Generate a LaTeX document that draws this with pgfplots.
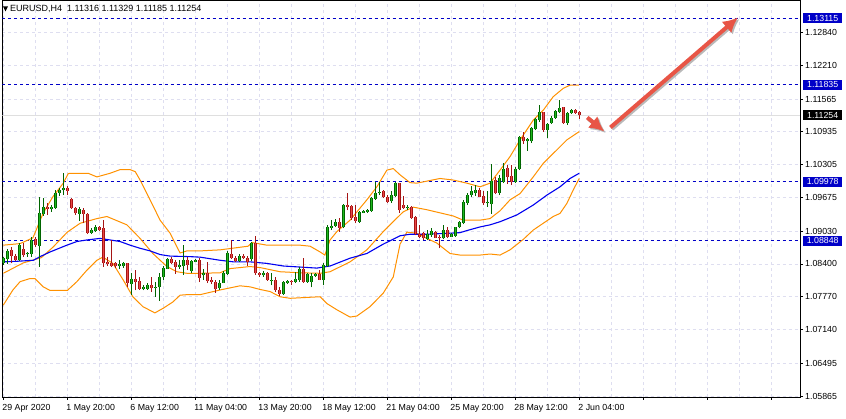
\documentclass[border=0pt]{standalone}
\usepackage{pgfplots}
\pgfplotsset{compat=1.18}
\usepackage{pgfplotstable}
\usepackage{fontspec}
\setmainfont{Liberation Sans}
\usetikzlibrary{arrows.meta}
\definecolor{bullfill}{RGB}{30,185,30}
\definecolor{bullline}{RGB}{0,100,0}
\definecolor{bearfill}{RGB}{232,70,70}
\definecolor{bearline}{RGB}{165,20,20}
\definecolor{bandorange}{RGB}{255,145,0}
\definecolor{mablue}{RGB}{0,0,240}
\definecolor{levelblue}{RGB}{0,0,200}
\definecolor{gridcol}{RGB}{222,222,240}
\definecolor{arrowred}{RGB}{232,85,70}
\definecolor{shadowgray}{RGB}{185,185,185}

\pgfplotstableread{
i o h l c
0 1.0841 1.0854 1.0838 1.0851
1 1.0849 1.0868 1.0840 1.0865
2 1.0867 1.0872 1.0841 1.0855
3 1.0856 1.0860 1.0846 1.0847
4 1.0847 1.0881 1.0846 1.0876
5 1.0868 1.0880 1.0853 1.0857
6 1.0859 1.0863 1.0854 1.0861
7 1.0859 1.0891 1.0854 1.0886
8 1.0887 1.0891 1.0872 1.0876
9 1.0874 1.0969 1.0835 1.0937
10 1.0936 1.0966 1.0932 1.0950
11 1.0950 1.0956 1.0934 1.0945
12 1.0946 1.0953 1.0940 1.0949
13 1.0947 1.0981 1.0945 1.0977
14 1.0976 1.0985 1.0970 1.0981
15 1.0981 1.1015 1.0972 1.0986
16 1.0986 1.0990 1.0972 1.0980
17 1.0964 1.0966 1.0945 1.0947
18 1.0947 1.0950 1.0934 1.0937
19 1.0936 1.0950 1.0923 1.0945
20 1.0943 1.0947 1.0918 1.0936
21 1.0936 1.0937 1.0897 1.0900
22 1.0900 1.0908 1.0897 1.0906
23 1.0904 1.0915 1.0901 1.0910
24 1.0910 1.0913 1.0904 1.0905
25 1.0908 1.0924 1.0835 1.0841
26 1.0844 1.0854 1.0836 1.0840
27 1.0841 1.0886 1.0835 1.0836
28 1.0841 1.0844 1.0833 1.0836
29 1.0836 1.0847 1.0830 1.0840
30 1.0836 1.0844 1.0833 1.0842
31 1.0841 1.0842 1.0796 1.0803
32 1.0801 1.0822 1.0780 1.0812
33 1.0812 1.0828 1.0789 1.0806
34 1.0807 1.0815 1.0790 1.0792
35 1.0791 1.0799 1.0789 1.0796
36 1.0792 1.0804 1.0790 1.0799
37 1.0799 1.0815 1.0787 1.0793
38 1.0794 1.0806 1.0777 1.0796
39 1.0795 1.0822 1.0769 1.0814
40 1.0814 1.0836 1.0810 1.0833
41 1.0831 1.0851 1.0830 1.0849
42 1.0849 1.0853 1.0840 1.0842
43 1.0844 1.0847 1.0821 1.0835
44 1.0835 1.0847 1.0831 1.0838
45 1.0836 1.0876 1.0819 1.0847
46 1.0847 1.0853 1.0828 1.0838
47 1.0826 1.0847 1.0822 1.0845
48 1.0844 1.0850 1.0843 1.0847
49 1.0847 1.0851 1.0805 1.0813
50 1.0818 1.0830 1.0810 1.0822
51 1.0822 1.0844 1.0803 1.0808
52 1.0809 1.0815 1.0801 1.0806
53 1.0806 1.0810 1.0785 1.0791
54 1.0793 1.0809 1.0790 1.0804
55 1.0804 1.0827 1.0803 1.0822
56 1.0821 1.0865 1.0819 1.0861
57 1.0860 1.0886 1.0849 1.0851
58 1.0851 1.0855 1.0844 1.0846
59 1.0846 1.0859 1.0843 1.0855
60 1.0855 1.0859 1.0849 1.0851
61 1.0851 1.0855 1.0836 1.0843
62 1.0849 1.0883 1.0846 1.0880
63 1.0880 1.0894 1.0819 1.0822
64 1.0823 1.0825 1.0815 1.0819
65 1.0818 1.0826 1.0815 1.0823
66 1.0822 1.0824 1.0808 1.0809
67 1.0809 1.0822 1.0799 1.0810
68 1.0810 1.0815 1.0787 1.0789
69 1.0790 1.0795 1.0778 1.0782
70 1.0782 1.0808 1.0780 1.0806
71 1.0803 1.0809 1.0801 1.0808
72 1.0808 1.0809 1.0799 1.0806
73 1.0806 1.0825 1.0803 1.0812
74 1.0810 1.0835 1.0806 1.0830
75 1.0831 1.0851 1.0804 1.0806
76 1.0806 1.0823 1.0804 1.0821
77 1.0806 1.0822 1.0795 1.0817
78 1.0817 1.0823 1.0815 1.0821
79 1.0821 1.0828 1.0809 1.0810
80 1.0810 1.0841 1.0799 1.0838
81 1.0836 1.0915 1.0835 1.0911
82 1.0909 1.0924 1.0905 1.0913
83 1.0913 1.0926 1.0911 1.0921
84 1.0921 1.0928 1.0902 1.0909
85 1.0910 1.0955 1.0908 1.0953
86 1.0953 1.0976 1.0943 1.0950
87 1.0951 1.0953 1.0924 1.0929
88 1.0931 1.0953 1.0918 1.0923
89 1.0921 1.0942 1.0919 1.0940
90 1.0938 1.0943 1.0937 1.0942
91 1.0940 1.0945 1.0938 1.0943
92 1.0942 1.0969 1.0940 1.0967
93 1.0965 1.0998 1.0963 1.0976
94 1.0976 1.0998 1.0972 1.0978
95 1.0979 1.0981 1.0966 1.0968
96 1.0969 1.0972 1.0957 1.0959
97 1.0960 1.0979 1.0957 1.0972
98 1.0971 1.0998 1.0969 1.0995
99 1.0995 1.0996 1.0938 1.0943
100 1.0954 1.0970 1.0945 1.0948
101 1.0947 1.0953 1.0943 1.0950
102 1.0950 1.0952 1.0926 1.0929
103 1.0931 1.0932 1.0895 1.0897
104 1.0897 1.0915 1.0889 1.0892
105 1.0899 1.0902 1.0886 1.0889
106 1.0887 1.0905 1.0885 1.0897
107 1.0895 1.0908 1.0892 1.0904
108 1.0902 1.0904 1.0889 1.0890
109 1.0892 1.0895 1.0870 1.0889
110 1.0889 1.0915 1.0887 1.0905
111 1.0905 1.0910 1.0889 1.0892
112 1.0892 1.0900 1.0891 1.0897
113 1.0893 1.0911 1.0892 1.0910
114 1.0910 1.0923 1.0908 1.0921
115 1.0919 1.0963 1.0916 1.0959
116 1.0957 1.0976 1.0953 1.0972
117 1.0972 1.0990 1.0968 1.0979
118 1.0977 1.0991 1.0970 1.0982
119 1.0982 1.0985 1.0968 1.0969
120 1.0970 1.0979 1.0953 1.0956
121 1.0956 1.0979 1.0950 1.0959
122 1.0955 1.1032 1.0936 1.1000
123 1.1001 1.1007 1.0974 1.0976
124 1.0976 1.1011 1.0972 1.1004
125 1.0998 1.1033 1.0995 1.1023
126 1.1025 1.1030 1.0993 1.1007
127 1.1009 1.1030 1.0991 1.0998
128 1.0998 1.1026 1.0995 1.1023
129 1.1022 1.1086 1.1020 1.1083
130 1.1083 1.1094 1.1070 1.1075
131 1.1075 1.1081 1.1057 1.1079
132 1.1075 1.1103 1.1072 1.1100
133 1.1098 1.1120 1.1097 1.1118
134 1.1116 1.1145 1.1113 1.1131
135 1.1131 1.1132 1.1094 1.1097
136 1.1097 1.1110 1.1081 1.1109
137 1.1110 1.1124 1.1109 1.1121
138 1.1120 1.1135 1.1118 1.1133
139 1.1131 1.1155 1.1129 1.1139
140 1.1141 1.1142 1.1109 1.1110
141 1.1110 1.1132 1.1107 1.1130
142 1.1129 1.1137 1.1128 1.1135
143 1.1135 1.1138 1.1128 1.1130
144 1.11316 1.11329 1.11185 1.11254
}\candles

\newcommand{\lblfont}{\fontsize{8.8}{10}\selectfont}

\begin{document}
\begin{tikzpicture}
\begin{axis}[
  at={(2.5pt,22pt)}, anchor=south west, scale only axis,
  width=797.5pt, height=396.5pt,
  xmin=-0.2, xmax=199.2, ymin=1.05846, ymax=1.13456,
  clip mode=individual,
  axis line style={black, line width=0.8pt},
  xtick={0,16,...,192},
  xticklabels={29 Apr 2020, 1 May 20:00, 6 May 12:00, 11 May 04:00, 13 May 20:00, 18 May 12:00, 21 May 04:00, 25 May 20:00, 28 May 12:00, 2 Jun 04:00,{},{},{}},
  minor xtick={8,24,...,200},
  ytick={1.05865,1.06495,1.07140,1.07770,1.08400,1.09030,1.09675,1.10305,1.10935,1.11565,1.12210,1.12840},
  yticklabels={1.05865,1.06495,1.07140,1.07770,1.08400,1.09030,1.09675,1.10305,1.10935,1.11565,1.12210,1.12840},
  xmajorgrids, xminorgrids, ymajorgrids,
  major grid style={gridcol, dash pattern=on 3pt off 3pt, line width=0.8pt},
  minor grid style={gridcol, dash pattern=on 3pt off 3pt, line width=0.8pt},
  tick align=outside, xtick pos=bottom, ytick pos=right, yticklabel pos=right,
  major tick length=3pt, minor tick length=0pt,
  tick style={black, line width=0.8pt},
  yticklabel style={font=\lblfont, anchor=west, inner sep=0pt, xshift=2pt},
  xticklabel style={font=\lblfont, anchor=north west, inner sep=0pt, xshift=-1pt, yshift=-4.5pt},
]
% level lines
\addplot[forget plot, levelblue, dash pattern=on 3pt off 3pt, line width=1pt] coordinates {(-0.2,1.13115) (199.2,1.13115)};
\addplot[forget plot, levelblue, dash pattern=on 3pt off 3pt, line width=1pt] coordinates {(-0.2,1.11835) (199.2,1.11835)};
\addplot[forget plot, levelblue, dash pattern=on 3pt off 3pt, line width=1pt] coordinates {(-0.2,1.09978) (199.2,1.09978)};
\addplot[forget plot, levelblue, dash pattern=on 3pt off 3pt, line width=1pt] coordinates {(-0.2,1.08848) (199.2,1.08848)};
\addplot[forget plot, gray!25, line width=0.8pt] coordinates {(-0.2,1.11254) (199.2,1.11254)};

% Bollinger bands
\addplot[forget plot, bandorange, line width=1pt] coordinates {
(0,1.0876) (4.2,1.0879) (7.4,1.0890) (10,1.0938) (12.4,1.0969) (15,1.0995) (16.2,1.1013) (16.7,1.1014) (21.2,1.1014) (23.4,1.1007) (26.7,1.1014) (29.2,1.1021) (31.7,1.1021) (33,1.1017) (34.2,1.1001) (36.7,1.0963) (39.2,1.0924) (41.7,1.0899) (43.4,1.0873) (44.2,1.0861) (45.9,1.0865) (49.2,1.0865) (54.2,1.0867) (59.2,1.0872) (61.2,1.0874) (62.2,1.0881) (65.9,1.0876) (74.2,1.0876) (76.7,1.0874) (79.2,1.0863) (80.4,1.0857) (81.7,1.0886) (83.4,1.0902) (86.7,1.0924) (90.9,1.0963) (93.4,1.0988) (95.9,1.1020) (97.5,1.1023) (99.2,1.1011) (101.7,1.0996) (103.4,1.0995) (109.2,1.1004) (112.5,1.1001) (115.9,1.0995) (119.2,1.0988) (121.7,1.0995) (124.2,1.1020) (126.7,1.1046) (129.2,1.1078) (132.5,1.1116) (135,1.1135) (137.5,1.1161) (140,1.1177) (141.7,1.1183) (144,1.1183)};
\addplot[forget plot, bandorange, line width=1pt] coordinates {
(0,1.0822) (5,1.0842) (9.5,1.0852) (12.4,1.0872) (16,1.0901) (19.2,1.0918) (23.4,1.0927) (25.9,1.0931) (28.4,1.0923) (30.9,1.0915) (34.2,1.0889) (37.4,1.0860) (40.9,1.0835) (43.4,1.0825) (45.9,1.0822) (49.2,1.0822) (54.2,1.0823) (56.7,1.0831) (61.7,1.0835) (64.2,1.0833) (69.2,1.0825) (74.2,1.0823) (79.2,1.0822) (81.7,1.0825) (86.7,1.0844) (90.9,1.0867) (95,1.0902) (98.4,1.0928) (100,1.0940) (102.5,1.0949) (105.9,1.0944) (109.2,1.0938) (112.5,1.0932) (115,1.0924) (119.2,1.0924) (121.7,1.0927) (124.2,1.0942) (126.7,1.0963) (129.2,1.0975) (132.5,1.1007) (135,1.1033) (137.5,1.1052) (140.9,1.1078) (144,1.1094)};
\addplot[forget plot, bandorange, line width=1pt] coordinates {
(0,1.0761) (2.4,1.0790) (4.2,1.0806) (6.7,1.0812) (7.9,1.0812) (10,1.0796) (11.7,1.0789) (16,1.0789) (18.4,1.0806) (20.9,1.0828) (23.4,1.0847) (24.9,1.0853) (27.4,1.0841) (30,1.0809) (32.4,1.0777) (34.9,1.0758) (37.9,1.0746) (40,1.0755) (42.4,1.0767) (44.2,1.0780) (45.9,1.0781) (49.2,1.0781) (54.2,1.0790) (59.2,1.0798) (61.7,1.0796) (64.2,1.0791) (66.7,1.0787) (69.2,1.0777) (71.7,1.0774) (74.2,1.0775) (79.2,1.0777) (80.9,1.0764) (83.4,1.0752) (86.7,1.0738) (88.4,1.0740) (91.7,1.0758) (95,1.0784) (97.5,1.0815) (99.2,1.0878) (100.9,1.0901) (103.4,1.0899) (105.9,1.0889) (108.4,1.0880) (111.7,1.0860) (114.2,1.0857) (119.2,1.0857) (121.7,1.0859) (124.2,1.0857) (126.7,1.0867) (130,1.0887) (132.5,1.0905) (135,1.0918) (137.5,1.0931) (139.2,1.0937) (140.9,1.0956) (142.5,1.0982) (144,1.1004)};
% moving average
\addplot[forget plot, mablue, line width=1.1pt] coordinates {
(0,1.0844) (3.3,1.0845) (7.5,1.0847) (9.2,1.0854) (11.7,1.0863) (15.9,1.0876) (18.4,1.0883) (20.9,1.0886) (24.2,1.0889) (26.7,1.0886) (29.2,1.0883) (31.7,1.0876) (34.2,1.0870) (36.7,1.0865) (39.2,1.0858) (41.7,1.0855) (46.7,1.0854) (49.2,1.0853) (54.2,1.0847) (57.5,1.0844) (61.7,1.0844) (65.9,1.0841) (70,1.0836) (74.2,1.0834) (78.4,1.0832) (81.7,1.0836) (86.7,1.0851) (90.9,1.0860) (95,1.0878) (99.2,1.0894) (101.7,1.0897) (105.9,1.0897) (111.7,1.0899) (114.2,1.0900) (115.9,1.0904) (119.2,1.0911) (121.7,1.0915) (124.2,1.0921) (128.4,1.0934) (132.5,1.0953) (135.9,1.0972) (139.2,1.0988) (141.7,1.1004) (144,1.1014)};

% wicks
\addplot[forget plot, mark=none, draw=none, x filter/.expression={\thisrow{c}>=\thisrow{o} ? x : nan},
  error bars/.cd, y dir=plus, y explicit, error mark=none,
  error bar style={draw=bullline, line width=1pt, solid}]
  table[x=i, y=l, y error plus expr={\thisrow{h}-\thisrow{l}}] {\candles};
\addplot[forget plot, mark=none, draw=none, x filter/.expression={\thisrow{c}<\thisrow{o} ? x : nan},
  error bars/.cd, y dir=plus, y explicit, error mark=none,
  error bar style={draw=bearline, line width=1pt, solid}]
  table[x=i, y=l, y error plus expr={\thisrow{h}-\thisrow{l}}] {\candles};
% bodies
\addplot[forget plot, mark=none, draw=none, x filter/.expression={\thisrow{c}>=\thisrow{o} ? x : nan},
  error bars/.cd, y dir=plus, y explicit, error mark=none,
  error bar style={draw=bullline, line width=3.2pt, solid}]
  table[x=i, y=o, y error plus expr={\thisrow{c}-\thisrow{o}}] {\candles};
\addplot[forget plot, mark=none, draw=none, x filter/.expression={\thisrow{c}>=\thisrow{o} ? x : nan},
  error bars/.cd, y dir=plus, y explicit, error mark=none,
  error bar style={draw=bullfill, line width=1.4pt, solid}]
  table[x=i, y=o, y error plus expr={\thisrow{c}-\thisrow{o}}] {\candles};
\addplot[forget plot, mark=none, draw=none, x filter/.expression={\thisrow{c}<\thisrow{o} ? x : nan},
  error bars/.cd, y dir=plus, y explicit, error mark=none,
  error bar style={draw=bearline, line width=3.2pt, solid}]
  table[x=i, y=c, y error plus expr={\thisrow{o}-\thisrow{c}}] {\candles};
\addplot[forget plot, mark=none, draw=none, x filter/.expression={\thisrow{c}<\thisrow{o} ? x : nan},
  error bars/.cd, y dir=plus, y explicit, error mark=none,
  error bar style={draw=bearfill, line width=1.4pt, solid}]
  table[x=i, y=c, y error plus expr={\thisrow{o}-\thisrow{c}}] {\candles};

% arrows (drawing objects)
\draw[shadowgray, line width=4pt, -{Latex[length=15pt,width=15pt]}, xshift=1.5pt, yshift=-1.5pt] (axis cs:146.0,1.1121) -- (axis cs:150.3,1.1094);
\draw[shadowgray, line width=4pt, -{Latex[length=15pt,width=15pt]}, xshift=1.5pt, yshift=-1.5pt] (axis cs:151.8,1.1102) -- (axis cs:183.7,1.1313);
\draw[arrowred, line width=4pt, -{Latex[length=15pt,width=15pt]}] (axis cs:146.0,1.1121) -- (axis cs:150.3,1.1094);
\draw[arrowred, line width=4pt, -{Latex[length=15pt,width=15pt]}] (axis cs:151.8,1.1102) -- (axis cs:183.7,1.1313);

% price labels on the right
\node[fill=levelblue, text=white, font=\lblfont, anchor=west, inner sep=0pt, minimum width=39pt, minimum height=10pt, xshift=3pt] at (axis cs:199.2,1.13115) {1.13115};
\node[fill=levelblue, text=white, font=\lblfont, anchor=west, inner sep=0pt, minimum width=39pt, minimum height=10pt, xshift=3pt] at (axis cs:199.2,1.11835) {1.11835};
\node[fill=levelblue, text=white, font=\lblfont, anchor=west, inner sep=0pt, minimum width=39pt, minimum height=10pt, xshift=3pt] at (axis cs:199.2,1.09978) {1.09978};
\node[fill=levelblue, text=white, font=\lblfont, anchor=west, inner sep=0pt, minimum width=39pt, minimum height=10pt, xshift=3pt] at (axis cs:199.2,1.08848) {1.08848};
\node[fill=black, text=white, font=\lblfont, anchor=west, inner sep=0pt, minimum width=39pt, minimum height=10pt, xshift=3pt] at (axis cs:199.2,1.11254) {1.11254};
\end{axis}
% title
\fill[black] (3pt,412.5pt) -- (8pt,412.5pt) -- (5.5pt,407.5pt) -- cycle;
\node[anchor=west, inner sep=0pt, font=\fontsize{9}{10}\selectfont] at (10pt,409.7pt) {EURUSD,H4\ \ 1.11316 1.11329 1.11185 1.11254};
\pgfresetboundingbox
\path[use as bounding box] (0pt,0pt) rectangle (846pt,419pt);
\end{tikzpicture}
\end{document}
